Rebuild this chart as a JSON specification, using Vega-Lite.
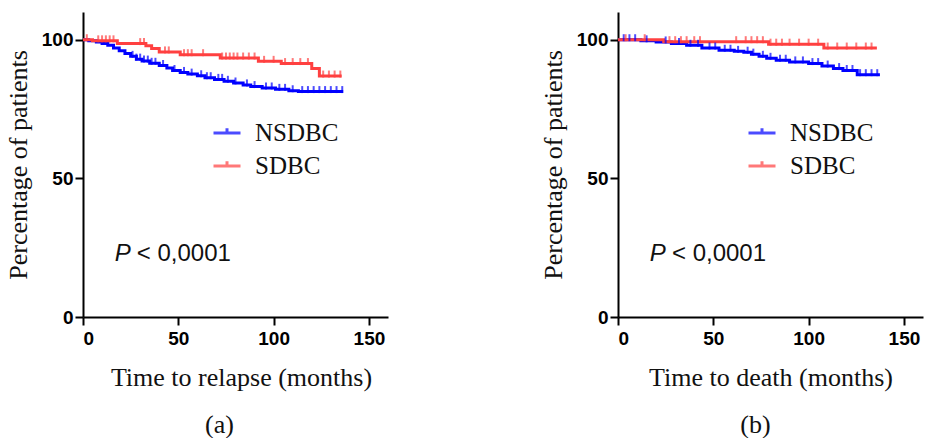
{
  "$schema": "https://vega.github.io/schema/vega-lite/v6.json",
  "padding": {"left": 5, "top": 12, "right": 5, "bottom": 0},
  "background": "white",
  "spacing": 152,
  "config": {
    "view": {"stroke": null},
    "axis": {
      "grid": false,
      "domainColor": "black",
      "domainWidth": 2,
      "tickColor": "black",
      "tickWidth": 2,
      "tickSize": 8,
      "labelFont": "Liberation Sans",
      "labelFontWeight": "bold",
      "labelFontSize": 19,
      "labelColor": "black",
      "titleFont": "Liberation Serif",
      "titleFontWeight": "normal",
      "titleFontSize": 26,
      "titleColor": "#111"
    },
    "axisX": {"labelPadding": 4, "titlePadding": 16},
    "axisY": {"labelPadding": 2, "titlePadding": 10},
    "title": {"font": "Liberation Serif", "fontSize": 26, "fontWeight": "normal", "color": "#111"},
    "legend": {
      "orient": "none",
      "title": null,
      "labelFont": "Liberation Serif",
      "labelFontSize": 25,
      "labelColor": "#111",
      "symbolType": "M-1,0H1M0,0V-0.35",
      "symbolSize": 729,
      "symbolStrokeWidth": 3,
      "symbolFillColor": "transparent",
      "labelOffset": 13,
      "rowPadding": 5
    }
  },
  "datasets": {
    "annot": [{"p": "P", "rest": "< 0,0001"}],
    "a_curves": [
      {"group": "NSDBC", "t": 0, "s": 100}, {"group": "NSDBC", "t": 3, "s": 99.6}, {"group": "NSDBC", "t": 7, "s": 99.2},
      {"group": "NSDBC", "t": 10, "s": 98.6}, {"group": "NSDBC", "t": 13, "s": 98.0}, {"group": "NSDBC", "t": 16, "s": 97.0},
      {"group": "NSDBC", "t": 19, "s": 96.0}, {"group": "NSDBC", "t": 22, "s": 95.0}, {"group": "NSDBC", "t": 25, "s": 94.0},
      {"group": "NSDBC", "t": 28, "s": 93.0}, {"group": "NSDBC", "t": 31, "s": 92.3}, {"group": "NSDBC", "t": 35, "s": 91.5},
      {"group": "NSDBC", "t": 40, "s": 90.7}, {"group": "NSDBC", "t": 44, "s": 89.8}, {"group": "NSDBC", "t": 47, "s": 88.9},
      {"group": "NSDBC", "t": 51, "s": 88.2}, {"group": "NSDBC", "t": 55, "s": 87.6}, {"group": "NSDBC", "t": 60, "s": 87.0},
      {"group": "NSDBC", "t": 64, "s": 86.3}, {"group": "NSDBC", "t": 69, "s": 85.7}, {"group": "NSDBC", "t": 74, "s": 85.0},
      {"group": "NSDBC", "t": 79, "s": 84.4}, {"group": "NSDBC", "t": 84, "s": 83.7}, {"group": "NSDBC", "t": 88, "s": 83.1},
      {"group": "NSDBC", "t": 94, "s": 82.6}, {"group": "NSDBC", "t": 101, "s": 82.1}, {"group": "NSDBC", "t": 108, "s": 81.6},
      {"group": "NSDBC", "t": 113, "s": 81.3}, {"group": "NSDBC", "t": 136.5, "s": 81.3},
      {"group": "SDBC", "t": 0, "s": 100}, {"group": "SDBC", "t": 5, "s": 99.6}, {"group": "SDBC", "t": 18, "s": 98.6},
      {"group": "SDBC", "t": 33, "s": 97.8}, {"group": "SDBC", "t": 36, "s": 96.8}, {"group": "SDBC", "t": 40, "s": 95.6},
      {"group": "SDBC", "t": 51, "s": 94.6}, {"group": "SDBC", "t": 72, "s": 93.4}, {"group": "SDBC", "t": 92, "s": 92.2},
      {"group": "SDBC", "t": 104, "s": 91.4}, {"group": "SDBC", "t": 120, "s": 89.6}, {"group": "SDBC", "t": 124, "s": 86.9},
      {"group": "SDBC", "t": 135.7, "s": 86.9}
    ],
    "a_cens": [
      {"group": "NSDBC", "t": 26, "s": 94.0}, {"group": "NSDBC", "t": 28, "s": 93.0}, {"group": "NSDBC", "t": 30, "s": 93.0},
      {"group": "NSDBC", "t": 32, "s": 92.3}, {"group": "NSDBC", "t": 34, "s": 92.3}, {"group": "NSDBC", "t": 36, "s": 91.5},
      {"group": "NSDBC", "t": 38, "s": 91.5}, {"group": "NSDBC", "t": 42, "s": 90.7}, {"group": "NSDBC", "t": 48, "s": 88.9},
      {"group": "NSDBC", "t": 53, "s": 88.2}, {"group": "NSDBC", "t": 57, "s": 87.6}, {"group": "NSDBC", "t": 62, "s": 87.0},
      {"group": "NSDBC", "t": 65, "s": 86.3}, {"group": "NSDBC", "t": 67, "s": 86.3}, {"group": "NSDBC", "t": 71, "s": 85.7},
      {"group": "NSDBC", "t": 73, "s": 85.7}, {"group": "NSDBC", "t": 76, "s": 85.0}, {"group": "NSDBC", "t": 80, "s": 84.4},
      {"group": "NSDBC", "t": 86, "s": 83.7}, {"group": "NSDBC", "t": 90, "s": 83.1}, {"group": "NSDBC", "t": 96, "s": 82.6},
      {"group": "NSDBC", "t": 99, "s": 82.6}, {"group": "NSDBC", "t": 103, "s": 82.1}, {"group": "NSDBC", "t": 106, "s": 82.1},
      {"group": "NSDBC", "t": 110, "s": 81.6}, {"group": "NSDBC", "t": 115, "s": 81.3}, {"group": "NSDBC", "t": 118, "s": 81.3},
      {"group": "NSDBC", "t": 121, "s": 81.3}, {"group": "NSDBC", "t": 124, "s": 81.3}, {"group": "NSDBC", "t": 127, "s": 81.3},
      {"group": "NSDBC", "t": 130, "s": 81.3}, {"group": "NSDBC", "t": 133, "s": 81.3}, {"group": "NSDBC", "t": 136, "s": 81.3},
      {"group": "SDBC", "t": 2, "s": 100}, {"group": "SDBC", "t": 8, "s": 99.6}, {"group": "SDBC", "t": 10, "s": 99.6},
      {"group": "SDBC", "t": 12, "s": 99.6}, {"group": "SDBC", "t": 14, "s": 99.6}, {"group": "SDBC", "t": 16, "s": 99.6},
      {"group": "SDBC", "t": 30, "s": 98.6}, {"group": "SDBC", "t": 32, "s": 98.6}, {"group": "SDBC", "t": 43, "s": 95.6},
      {"group": "SDBC", "t": 45, "s": 95.6}, {"group": "SDBC", "t": 53, "s": 94.6}, {"group": "SDBC", "t": 55, "s": 94.6},
      {"group": "SDBC", "t": 57, "s": 94.6}, {"group": "SDBC", "t": 63, "s": 94.6}, {"group": "SDBC", "t": 73, "s": 93.4},
      {"group": "SDBC", "t": 75, "s": 93.4}, {"group": "SDBC", "t": 77, "s": 93.4}, {"group": "SDBC", "t": 79, "s": 93.4},
      {"group": "SDBC", "t": 81, "s": 93.4}, {"group": "SDBC", "t": 84, "s": 93.4}, {"group": "SDBC", "t": 87, "s": 93.4},
      {"group": "SDBC", "t": 90, "s": 93.4}, {"group": "SDBC", "t": 95, "s": 92.2}, {"group": "SDBC", "t": 100, "s": 92.2},
      {"group": "SDBC", "t": 106, "s": 91.4}, {"group": "SDBC", "t": 110, "s": 91.4}, {"group": "SDBC", "t": 114, "s": 91.4},
      {"group": "SDBC", "t": 118, "s": 91.4}, {"group": "SDBC", "t": 126, "s": 86.9}, {"group": "SDBC", "t": 129, "s": 86.9},
      {"group": "SDBC", "t": 132, "s": 86.9}, {"group": "SDBC", "t": 135, "s": 86.9}
    ],
    "b_curves": [
      {"group": "NSDBC", "t": 0, "s": 100}, {"group": "NSDBC", "t": 12, "s": 99.6}, {"group": "NSDBC", "t": 20, "s": 99.2},
      {"group": "NSDBC", "t": 28, "s": 98.6}, {"group": "NSDBC", "t": 36, "s": 98.0}, {"group": "NSDBC", "t": 44, "s": 97.0},
      {"group": "NSDBC", "t": 53, "s": 96.2}, {"group": "NSDBC", "t": 61, "s": 95.8}, {"group": "NSDBC", "t": 66, "s": 95.5},
      {"group": "NSDBC", "t": 70, "s": 94.8}, {"group": "NSDBC", "t": 74, "s": 94.0}, {"group": "NSDBC", "t": 78, "s": 93.3},
      {"group": "NSDBC", "t": 83, "s": 92.6}, {"group": "NSDBC", "t": 90, "s": 92.0}, {"group": "NSDBC", "t": 100, "s": 91.4},
      {"group": "NSDBC", "t": 107, "s": 90.5}, {"group": "NSDBC", "t": 113, "s": 89.6}, {"group": "NSDBC", "t": 118, "s": 88.9},
      {"group": "NSDBC", "t": 125.5, "s": 87.4}, {"group": "NSDBC", "t": 137.4, "s": 87.4},
      {"group": "SDBC", "t": 0, "s": 100}, {"group": "SDBC", "t": 24, "s": 99.3}, {"group": "SDBC", "t": 79, "s": 98.4},
      {"group": "SDBC", "t": 108, "s": 97.0}, {"group": "SDBC", "t": 135.8, "s": 97.0}
    ],
    "b_cens": [
      {"group": "NSDBC", "t": 3, "s": 100}, {"group": "NSDBC", "t": 6, "s": 100}, {"group": "NSDBC", "t": 9, "s": 100},
      {"group": "NSDBC", "t": 15, "s": 99.6}, {"group": "NSDBC", "t": 25, "s": 99.2}, {"group": "NSDBC", "t": 32, "s": 98.6},
      {"group": "NSDBC", "t": 38, "s": 98.0}, {"group": "NSDBC", "t": 42, "s": 98.0}, {"group": "NSDBC", "t": 48, "s": 97.0},
      {"group": "NSDBC", "t": 51, "s": 97.0}, {"group": "NSDBC", "t": 56, "s": 96.2}, {"group": "NSDBC", "t": 59, "s": 96.2},
      {"group": "NSDBC", "t": 63, "s": 95.8}, {"group": "NSDBC", "t": 68, "s": 95.5}, {"group": "NSDBC", "t": 71, "s": 94.8},
      {"group": "NSDBC", "t": 76, "s": 94.0}, {"group": "NSDBC", "t": 80, "s": 93.3}, {"group": "NSDBC", "t": 85, "s": 92.6},
      {"group": "NSDBC", "t": 88, "s": 92.6}, {"group": "NSDBC", "t": 93, "s": 92.0}, {"group": "NSDBC", "t": 97, "s": 92.0},
      {"group": "NSDBC", "t": 102, "s": 91.4}, {"group": "NSDBC", "t": 105, "s": 91.4}, {"group": "NSDBC", "t": 110, "s": 90.5},
      {"group": "NSDBC", "t": 116, "s": 89.6}, {"group": "NSDBC", "t": 120, "s": 88.9}, {"group": "NSDBC", "t": 123, "s": 88.9},
      {"group": "NSDBC", "t": 127, "s": 87.4}, {"group": "NSDBC", "t": 130, "s": 87.4}, {"group": "NSDBC", "t": 133, "s": 87.4},
      {"group": "NSDBC", "t": 136, "s": 87.4},
      {"group": "SDBC", "t": 4, "s": 100}, {"group": "SDBC", "t": 14, "s": 100}, {"group": "SDBC", "t": 27, "s": 99.3},
      {"group": "SDBC", "t": 30, "s": 99.3}, {"group": "SDBC", "t": 33, "s": 99.3}, {"group": "SDBC", "t": 36, "s": 99.3},
      {"group": "SDBC", "t": 40, "s": 99.3}, {"group": "SDBC", "t": 43, "s": 99.3}, {"group": "SDBC", "t": 62, "s": 99.3},
      {"group": "SDBC", "t": 67, "s": 99.3}, {"group": "SDBC", "t": 70, "s": 99.3}, {"group": "SDBC", "t": 73, "s": 99.3},
      {"group": "SDBC", "t": 76, "s": 99.3}, {"group": "SDBC", "t": 80, "s": 98.4}, {"group": "SDBC", "t": 83, "s": 98.4},
      {"group": "SDBC", "t": 86, "s": 98.4}, {"group": "SDBC", "t": 90, "s": 98.4}, {"group": "SDBC", "t": 95, "s": 98.4},
      {"group": "SDBC", "t": 100, "s": 98.4}, {"group": "SDBC", "t": 105, "s": 98.4}, {"group": "SDBC", "t": 110, "s": 97.0},
      {"group": "SDBC", "t": 115, "s": 97.0}, {"group": "SDBC", "t": 120, "s": 97.0}, {"group": "SDBC", "t": 125, "s": 97.0},
      {"group": "SDBC", "t": 130, "s": 97.0}, {"group": "SDBC", "t": 133, "s": 97.0}
    ]
  },
  "hconcat": [
    {
      "width": 305,
      "height": 305,
      "title": {"text": "(a)", "orient": "bottom", "anchor": "middle", "dx": -16, "offset": 22},
      "layer": [
        {
          "data": {"name": "a_curves"},
          "mark": {"type": "line", "interpolate": "step-after", "strokeWidth": 3},
          "encoding": {
            "x": {"field": "t", "type": "quantitative", "scale": {"domain": [0, 150]},
                  "axis": {"values": [0, 50, 100, 150], "title": "Time to relapse (months)", "titleX": 158}},
            "y": {"field": "s", "type": "quantitative", "scale": {"domain": [0, 110]},
                  "axis": {"values": [0, 50, 100], "title": "Percentage of patients"}},
            "color": {"field": "group", "type": "nominal",
                      "scale": {"domain": ["NSDBC", "SDBC"], "range": ["#0000ff", "#ff4040"]},
                      "legend": {"legendX": 129, "legendY": 106}}
          }
        },
        {
          "data": {"name": "a_cens"},
          "mark": {"type": "tick", "orient": "vertical", "size": 7, "thickness": 2, "yOffset": -2},
          "encoding": {
            "x": {"field": "t", "type": "quantitative"},
            "y": {"field": "s", "type": "quantitative"},
            "color": {"field": "group", "type": "nominal"}
          }
        },
        {
          "data": {"name": "annot"},
          "mark": {"type": "text", "font": "Liberation Sans", "fontSize": 24, "fontStyle": "italic", "align": "left", "baseline": "middle", "color": "#111"},
          "encoding": {"x": {"datum": 16.7}, "y": {"datum": 22.7}, "text": {"field": "p"}}
        },
        {
          "data": {"name": "annot"},
          "mark": {"type": "text", "font": "Liberation Sans", "fontSize": 24, "align": "left", "baseline": "middle", "color": "#111"},
          "encoding": {"x": {"datum": 28.2}, "y": {"datum": 22.7}, "text": {"field": "rest"}}
        }
      ]
    },
    {
      "width": 305,
      "height": 305,
      "title": {"text": "(b)", "orient": "bottom", "anchor": "middle", "dx": -15, "offset": 22},
      "layer": [
        {
          "data": {"name": "b_curves"},
          "mark": {"type": "line", "interpolate": "step-after", "strokeWidth": 3},
          "encoding": {
            "x": {"field": "t", "type": "quantitative", "scale": {"domain": [0, 150]},
                  "axis": {"values": [0, 50, 100, 150], "title": "Time to death (months)"}},
            "y": {"field": "s", "type": "quantitative", "scale": {"domain": [0, 110]},
                  "axis": {"values": [0, 50, 100], "title": "Percentage of patients"}},
            "color": {"field": "group", "type": "nominal",
                      "scale": {"domain": ["NSDBC", "SDBC"], "range": ["#0000ff", "#ff4040"]},
                      "legend": {"legendX": 129, "legendY": 106}}
          }
        },
        {
          "data": {"name": "b_cens"},
          "mark": {"type": "tick", "orient": "vertical", "size": 7, "thickness": 2, "yOffset": -2},
          "encoding": {
            "x": {"field": "t", "type": "quantitative"},
            "y": {"field": "s", "type": "quantitative"},
            "color": {"field": "group", "type": "nominal"}
          }
        },
        {
          "data": {"name": "annot"},
          "mark": {"type": "text", "font": "Liberation Sans", "fontSize": 24, "fontStyle": "italic", "align": "left", "baseline": "middle", "color": "#111"},
          "encoding": {"x": {"datum": 16.7}, "y": {"datum": 22.7}, "text": {"field": "p"}}
        },
        {
          "data": {"name": "annot"},
          "mark": {"type": "text", "font": "Liberation Sans", "fontSize": 24, "align": "left", "baseline": "middle", "color": "#111"},
          "encoding": {"x": {"datum": 28.3}, "y": {"datum": 22.7}, "text": {"field": "rest"}}
        }
      ]
    }
  ],
  "resolve": {"scale": {"color": "independent"}, "legend": {"color": "independent"}}
}
